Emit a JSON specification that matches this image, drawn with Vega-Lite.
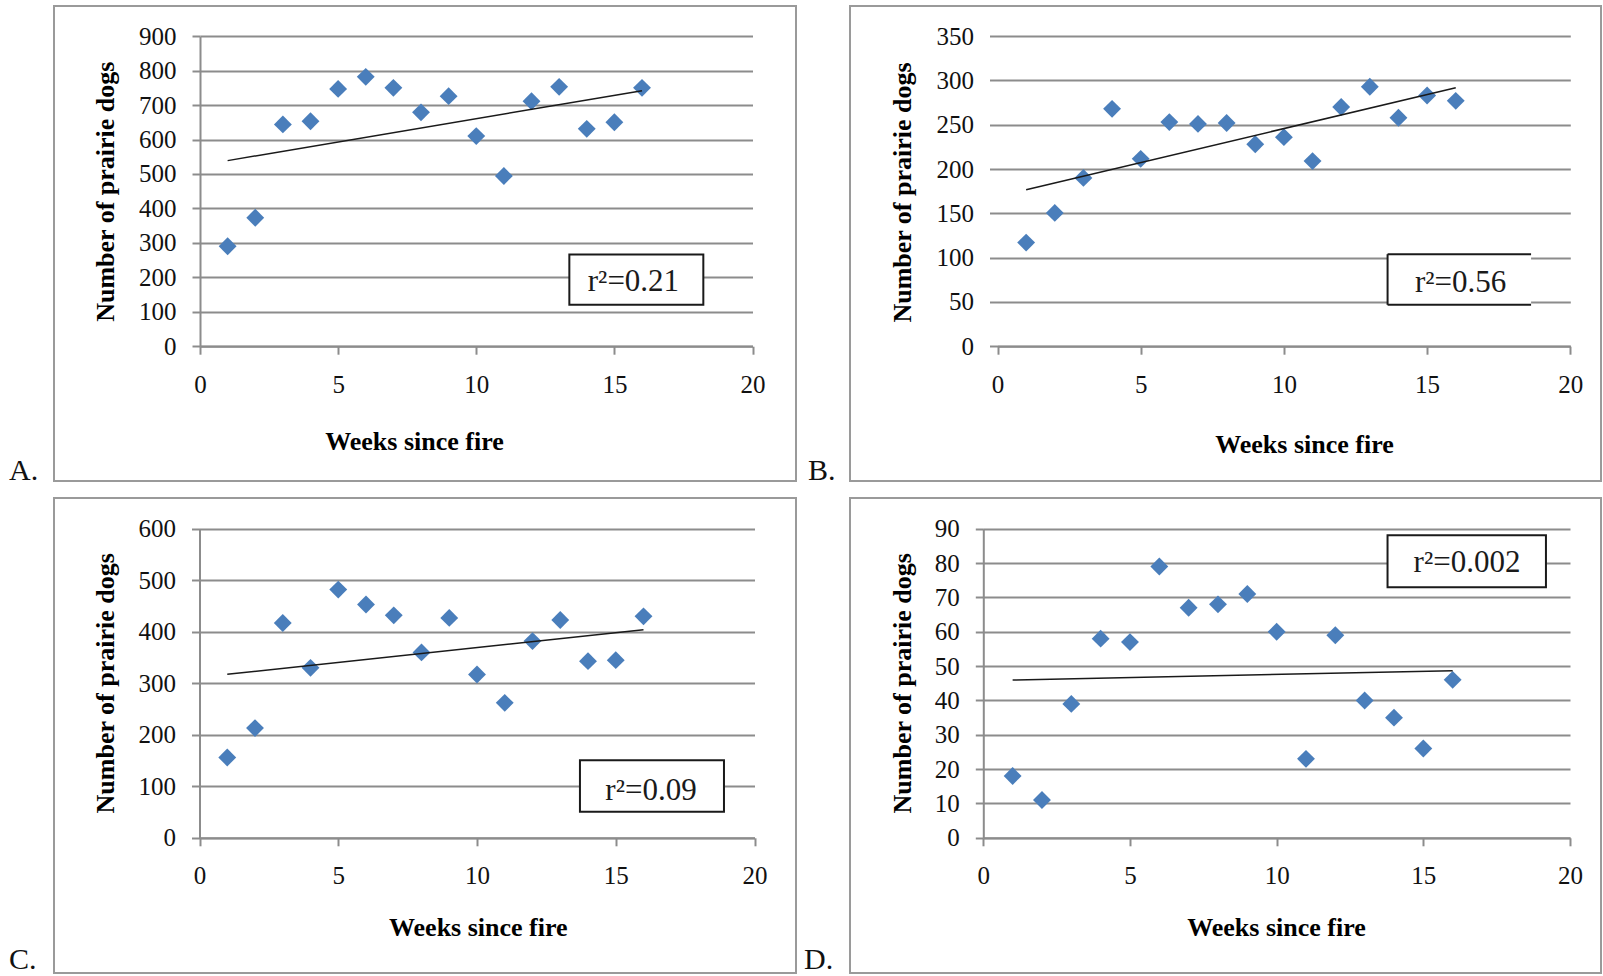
{
  "$schema": "https://vega.github.io/schema/vega-lite/v6.json",
  "background": "white",
  "padding": {"left": 8, "top": 5, "right": 0, "bottom": 0},
  "datasets": {
    "siteA": [
      {"week": 1, "count": 290}, {"week": 2, "count": 373}, {"week": 3, "count": 644}, {"week": 4, "count": 653},
      {"week": 5, "count": 747}, {"week": 6, "count": 782}, {"week": 7, "count": 750}, {"week": 8, "count": 679},
      {"week": 9, "count": 726}, {"week": 10, "count": 610}, {"week": 11, "count": 494}, {"week": 12, "count": 711},
      {"week": 13, "count": 753}, {"week": 14, "count": 631}, {"week": 15, "count": 650}, {"week": 16, "count": 750}
    ],
    "siteB": [
      {"week": 1, "count": 117}, {"week": 2, "count": 150.5}, {"week": 3, "count": 190}, {"week": 4, "count": 268},
      {"week": 5, "count": 211.5}, {"week": 6, "count": 253}, {"week": 7, "count": 251}, {"week": 8, "count": 252},
      {"week": 9, "count": 228}, {"week": 10, "count": 236}, {"week": 11, "count": 209}, {"week": 12, "count": 270},
      {"week": 13, "count": 293}, {"week": 14, "count": 258}, {"week": 15, "count": 283}, {"week": 16, "count": 277}
    ],
    "siteC": [
      {"week": 1, "count": 156}, {"week": 2, "count": 213}, {"week": 3, "count": 417}, {"week": 4, "count": 330},
      {"week": 5, "count": 482}, {"week": 6, "count": 453}, {"week": 7, "count": 432}, {"week": 8, "count": 360},
      {"week": 9, "count": 427}, {"week": 10, "count": 317}, {"week": 11, "count": 262}, {"week": 12, "count": 382},
      {"week": 13, "count": 423}, {"week": 14, "count": 343}, {"week": 15, "count": 345}, {"week": 16, "count": 430}
    ],
    "siteD": [
      {"week": 1, "count": 18}, {"week": 2, "count": 11}, {"week": 3, "count": 39}, {"week": 4, "count": 58},
      {"week": 5, "count": 57}, {"week": 6, "count": 79}, {"week": 7, "count": 67}, {"week": 8, "count": 68},
      {"week": 9, "count": 71}, {"week": 10, "count": 60}, {"week": 11, "count": 23}, {"week": 12, "count": 59},
      {"week": 13, "count": 40}, {"week": 14, "count": 35}, {"week": 15, "count": 26}, {"week": 16, "count": 46}
    ]
  },
  "columns": 2,
  "bounds": "flush",
  "spacing": {"row": 17, "column": 54},
  "concat": [
    {
      "width": 742, "height": 475,
      "data": {"name": "siteA"},
      "title": {"text": "A.", "dx": -45, "offset": -25},
      "layer": [
        {
          "mark": {"type": "point", "shape": "diamond", "filled": true, "size": 320, "color": "#4a7ebb", "opacity": 1},
          "encoding": {
            "x": {"field": "week", "type": "quantitative",
                  "scale": {"domain": [0, 20], "range": [146, 698.5], "nice": false, "zero": false},
                  "axis": {"values": [0, 5, 10, 15, 20], "offset": -134.8, "title": "Weeks since fire", "titleX": 360, "titleY": 103.3}},
            "y": {"field": "count", "type": "quantitative",
                  "scale": {"domain": [0, 900], "range": [340.2, 30.2], "nice": false},
                  "axis": {"values": [0, 100, 200, 300, 400, 500, 600, 700, 800, 900], "offset": -146, "title": "Number of prairie dogs", "titleX": -87, "titleY": 185.2}}
          }
        },
        {
          "transform": [{"regression": "count", "on": "week", "extent": [1, 16]}],
          "mark": {"type": "line", "color": "#1a1a1a", "strokeWidth": 1.5},
          "encoding": {"x": {"field": "week", "type": "quantitative"}, "y": {"field": "count", "type": "quantitative"}}
        },
        {
          "data": {"values": [{"label": "r²=0.21"}]},
          "mark": {"type": "rect", "fill": "white", "stroke": "#1a1a1a", "strokeWidth": 2},
          "encoding": {"x": {"datum": 13.37, "type": "quantitative"}, "x2": {"datum": 18.22}, "y": {"datum": 120.2, "type": "quantitative"}, "y2": {"datum": 266.2}}
        },
        {
          "data": {"values": [{"label": "r²=0.21"}]},
          "mark": {"type": "text", "font": "Liberation Serif", "fontSize": 31, "color": "#1a1a1a", "align": "center", "baseline": "middle"},
          "encoding": {"x": {"datum": 15.69, "type": "quantitative"}, "y": {"datum": 185, "type": "quantitative"}, "text": {"field": "label"}}
        }
      ]
    },
    {
      "width": 751, "height": 475,
      "data": {"name": "siteB"},
      "title": {"text": "B.", "dx": -42, "offset": -25},
      "layer": [
        {
          "mark": {"type": "point", "shape": "diamond", "filled": true, "size": 320, "color": "#4a7ebb", "opacity": 1},
          "encoding": {
            "x": {"field": "week", "type": "quantitative",
                  "scale": {"domain": [0, 20], "range": [147.5, 720.3], "nice": false, "zero": false},
                  "axis": {"values": [0, 5, 10, 15, 20], "offset": -134.8, "title": "Weeks since fire", "titleX": 454, "titleY": 106.6}},
            "y": {"field": "count", "type": "quantitative",
                  "scale": {"domain": [0, 350], "range": [340.2, 30.2], "nice": false},
                  "axis": {"values": [0, 50, 100, 150, 200, 250, 300, 350], "offset": -147.5, "domain": false, "title": "Number of prairie dogs", "titleX": -87.5, "titleY": 186}}
          }
        },
        {
          "transform": [{"regression": "count", "on": "week", "extent": [1, 16]}],
          "mark": {"type": "line", "color": "#1a1a1a", "strokeWidth": 1.5},
          "encoding": {"x": {"field": "week", "type": "quantitative"}, "y": {"field": "count", "type": "quantitative"}}
        },
        {
          "data": {"values": [{"label": "r²=0.56"}]},
          "mark": {"type": "rect", "fill": "white", "strokeWidth": 0},
          "encoding": {"x": {"datum": 13.62, "type": "quantitative"}, "x2": {"datum": 18.63}, "y": {"datum": 46.7, "type": "quantitative"}, "y2": {"datum": 103.9}}
        },
        {
          "data": {"values": [{"label": "r²=0.56"}]},
          "mark": {"type": "rule", "color": "#1a1a1a", "strokeWidth": 2},
          "encoding": {"x": {"datum": 13.62, "type": "quantitative"}, "x2": {"datum": 18.63}, "y": {"datum": 103.9, "type": "quantitative"}}
        },
        {
          "data": {"values": [{"label": "r²=0.56"}]},
          "mark": {"type": "rule", "color": "#1a1a1a", "strokeWidth": 2},
          "encoding": {"x": {"datum": 13.62, "type": "quantitative"}, "x2": {"datum": 18.63}, "y": {"datum": 46.7, "type": "quantitative"}}
        },
        {
          "data": {"values": [{"label": "r²=0.56"}]},
          "mark": {"type": "rule", "color": "#1a1a1a", "strokeWidth": 2},
          "encoding": {"x": {"datum": 13.62, "type": "quantitative"}, "y": {"datum": 46.7, "type": "quantitative"}, "y2": {"datum": 103.9}}
        },
        {
          "data": {"values": [{"label": "r²=0.56"}]},
          "mark": {"type": "text", "font": "Liberation Serif", "fontSize": 31, "color": "#1a1a1a", "align": "center", "baseline": "middle"},
          "encoding": {"x": {"datum": 16.17, "type": "quantitative"}, "y": {"datum": 71.6, "type": "quantitative"}, "text": {"field": "label"}}
        }
      ]
    },
    {
      "width": 742, "height": 475,
      "data": {"name": "siteC"},
      "title": {"text": "C.", "dx": -45, "offset": -28},
      "layer": [
        {
          "mark": {"type": "point", "shape": "diamond", "filled": true, "size": 320, "color": "#4a7ebb", "opacity": 1},
          "encoding": {
            "x": {"field": "week", "type": "quantitative",
                  "scale": {"domain": [0, 20], "range": [145.5, 700.5], "nice": false, "zero": false},
                  "axis": {"values": [0, 5, 10, 15, 20], "offset": -135.2, "title": "Weeks since fire", "titleX": 423.8, "titleY": 97.4}},
            "y": {"field": "count", "type": "quantitative",
                  "scale": {"domain": [0, 600], "range": [339.8, 30.8], "nice": false},
                  "axis": {"values": [0, 100, 200, 300, 400, 500, 600], "offset": -145.5, "title": "Number of prairie dogs", "titleX": -86.5, "titleY": 184.8}}
          }
        },
        {
          "transform": [{"regression": "count", "on": "week", "extent": [1, 16]}],
          "mark": {"type": "line", "color": "#1a1a1a", "strokeWidth": 1.5},
          "encoding": {"x": {"field": "week", "type": "quantitative"}, "y": {"field": "count", "type": "quantitative"}}
        },
        {
          "data": {"values": [{"label": "r²=0.09"}]},
          "mark": {"type": "rect", "fill": "white", "stroke": "#1a1a1a", "strokeWidth": 2},
          "encoding": {"x": {"datum": 13.71, "type": "quantitative"}, "x2": {"datum": 18.9}, "y": {"datum": 50.5, "type": "quantitative"}, "y2": {"datum": 150.7}}
        },
        {
          "data": {"values": [{"label": "r²=0.09"}]},
          "mark": {"type": "text", "font": "Liberation Serif", "fontSize": 31, "color": "#1a1a1a", "align": "center", "baseline": "middle"},
          "encoding": {"x": {"datum": 16.27, "type": "quantitative"}, "y": {"datum": 90.5, "type": "quantitative"}, "text": {"field": "label"}}
        }
      ]
    },
    {
      "width": 751, "height": 475,
      "data": {"name": "siteD"},
      "title": {"text": "D.", "dx": -46, "offset": -28},
      "layer": [
        {
          "mark": {"type": "point", "shape": "diamond", "filled": true, "size": 320, "color": "#4a7ebb", "opacity": 1},
          "encoding": {
            "x": {"field": "week", "type": "quantitative",
                  "scale": {"domain": [0, 20], "range": [133.3, 720], "nice": false, "zero": false},
                  "axis": {"values": [0, 5, 10, 15, 20], "offset": -135.2, "title": "Weeks since fire", "titleX": 426, "titleY": 97.4}},
            "y": {"field": "count", "type": "quantitative",
                  "scale": {"domain": [0, 90], "range": [339.8, 30.8], "nice": false},
                  "axis": {"values": [0, 10, 20, 30, 40, 50, 60, 70, 80, 90], "offset": -133.3, "title": "Number of prairie dogs", "titleX": -73.3, "titleY": 184.8}}
          }
        },
        {
          "transform": [{"regression": "count", "on": "week", "extent": [1, 16]}],
          "mark": {"type": "line", "color": "#1a1a1a", "strokeWidth": 1.5},
          "encoding": {"x": {"field": "week", "type": "quantitative"}, "y": {"field": "count", "type": "quantitative"}}
        },
        {
          "data": {"values": [{"label": "r²=0.002"}]},
          "mark": {"type": "rect", "fill": "white", "stroke": "#1a1a1a", "strokeWidth": 2},
          "encoding": {"x": {"datum": 13.78, "type": "quantitative"}, "x2": {"datum": 19.18}, "y": {"datum": 73.0, "type": "quantitative"}, "y2": {"datum": 88.1}}
        },
        {
          "data": {"values": [{"label": "r²=0.002"}]},
          "mark": {"type": "text", "font": "Liberation Serif", "fontSize": 31, "color": "#1a1a1a", "align": "center", "baseline": "middle"},
          "encoding": {"x": {"datum": 16.49, "type": "quantitative"}, "y": {"datum": 79.9, "type": "quantitative"}, "text": {"field": "label"}}
        }
      ]
    }
  ],
  "config": {
    "view": {"stroke": "#9a9a9a", "strokeWidth": 2},
    "title": {"orient": "bottom", "anchor": "start", "frame": "group", "baseline": "top", "font": "Liberation Serif", "fontSize": 30, "fontWeight": "normal", "color": "#111111"},
    "axis": {
      "domainColor": "#8c8c8c", "domainWidth": 2,
      "tickColor": "#8c8c8c", "tickWidth": 2, "tickSize": 8,
      "gridColor": "#8c8c8c", "gridWidth": 2,
      "labelFont": "Liberation Serif", "labelFontSize": 25, "labelColor": "#111111",
      "titleFont": "Liberation Serif", "titleFontSize": 26, "titleFontWeight": "bold", "titleColor": "#000000",
      "labelOverlap": false, "labelFlush": false, "labelBound": false
    },
    "axisX": {"grid": false, "labelPadding": 38, "labelBaseline": "alphabetic", "titleBaseline": "alphabetic", "titleAlign": "center"},
    "axisY": {"grid": true, "labelPadding": 16, "titleAngle": 270, "titleBaseline": "alphabetic", "titleAlign": "center"}
  }
}
